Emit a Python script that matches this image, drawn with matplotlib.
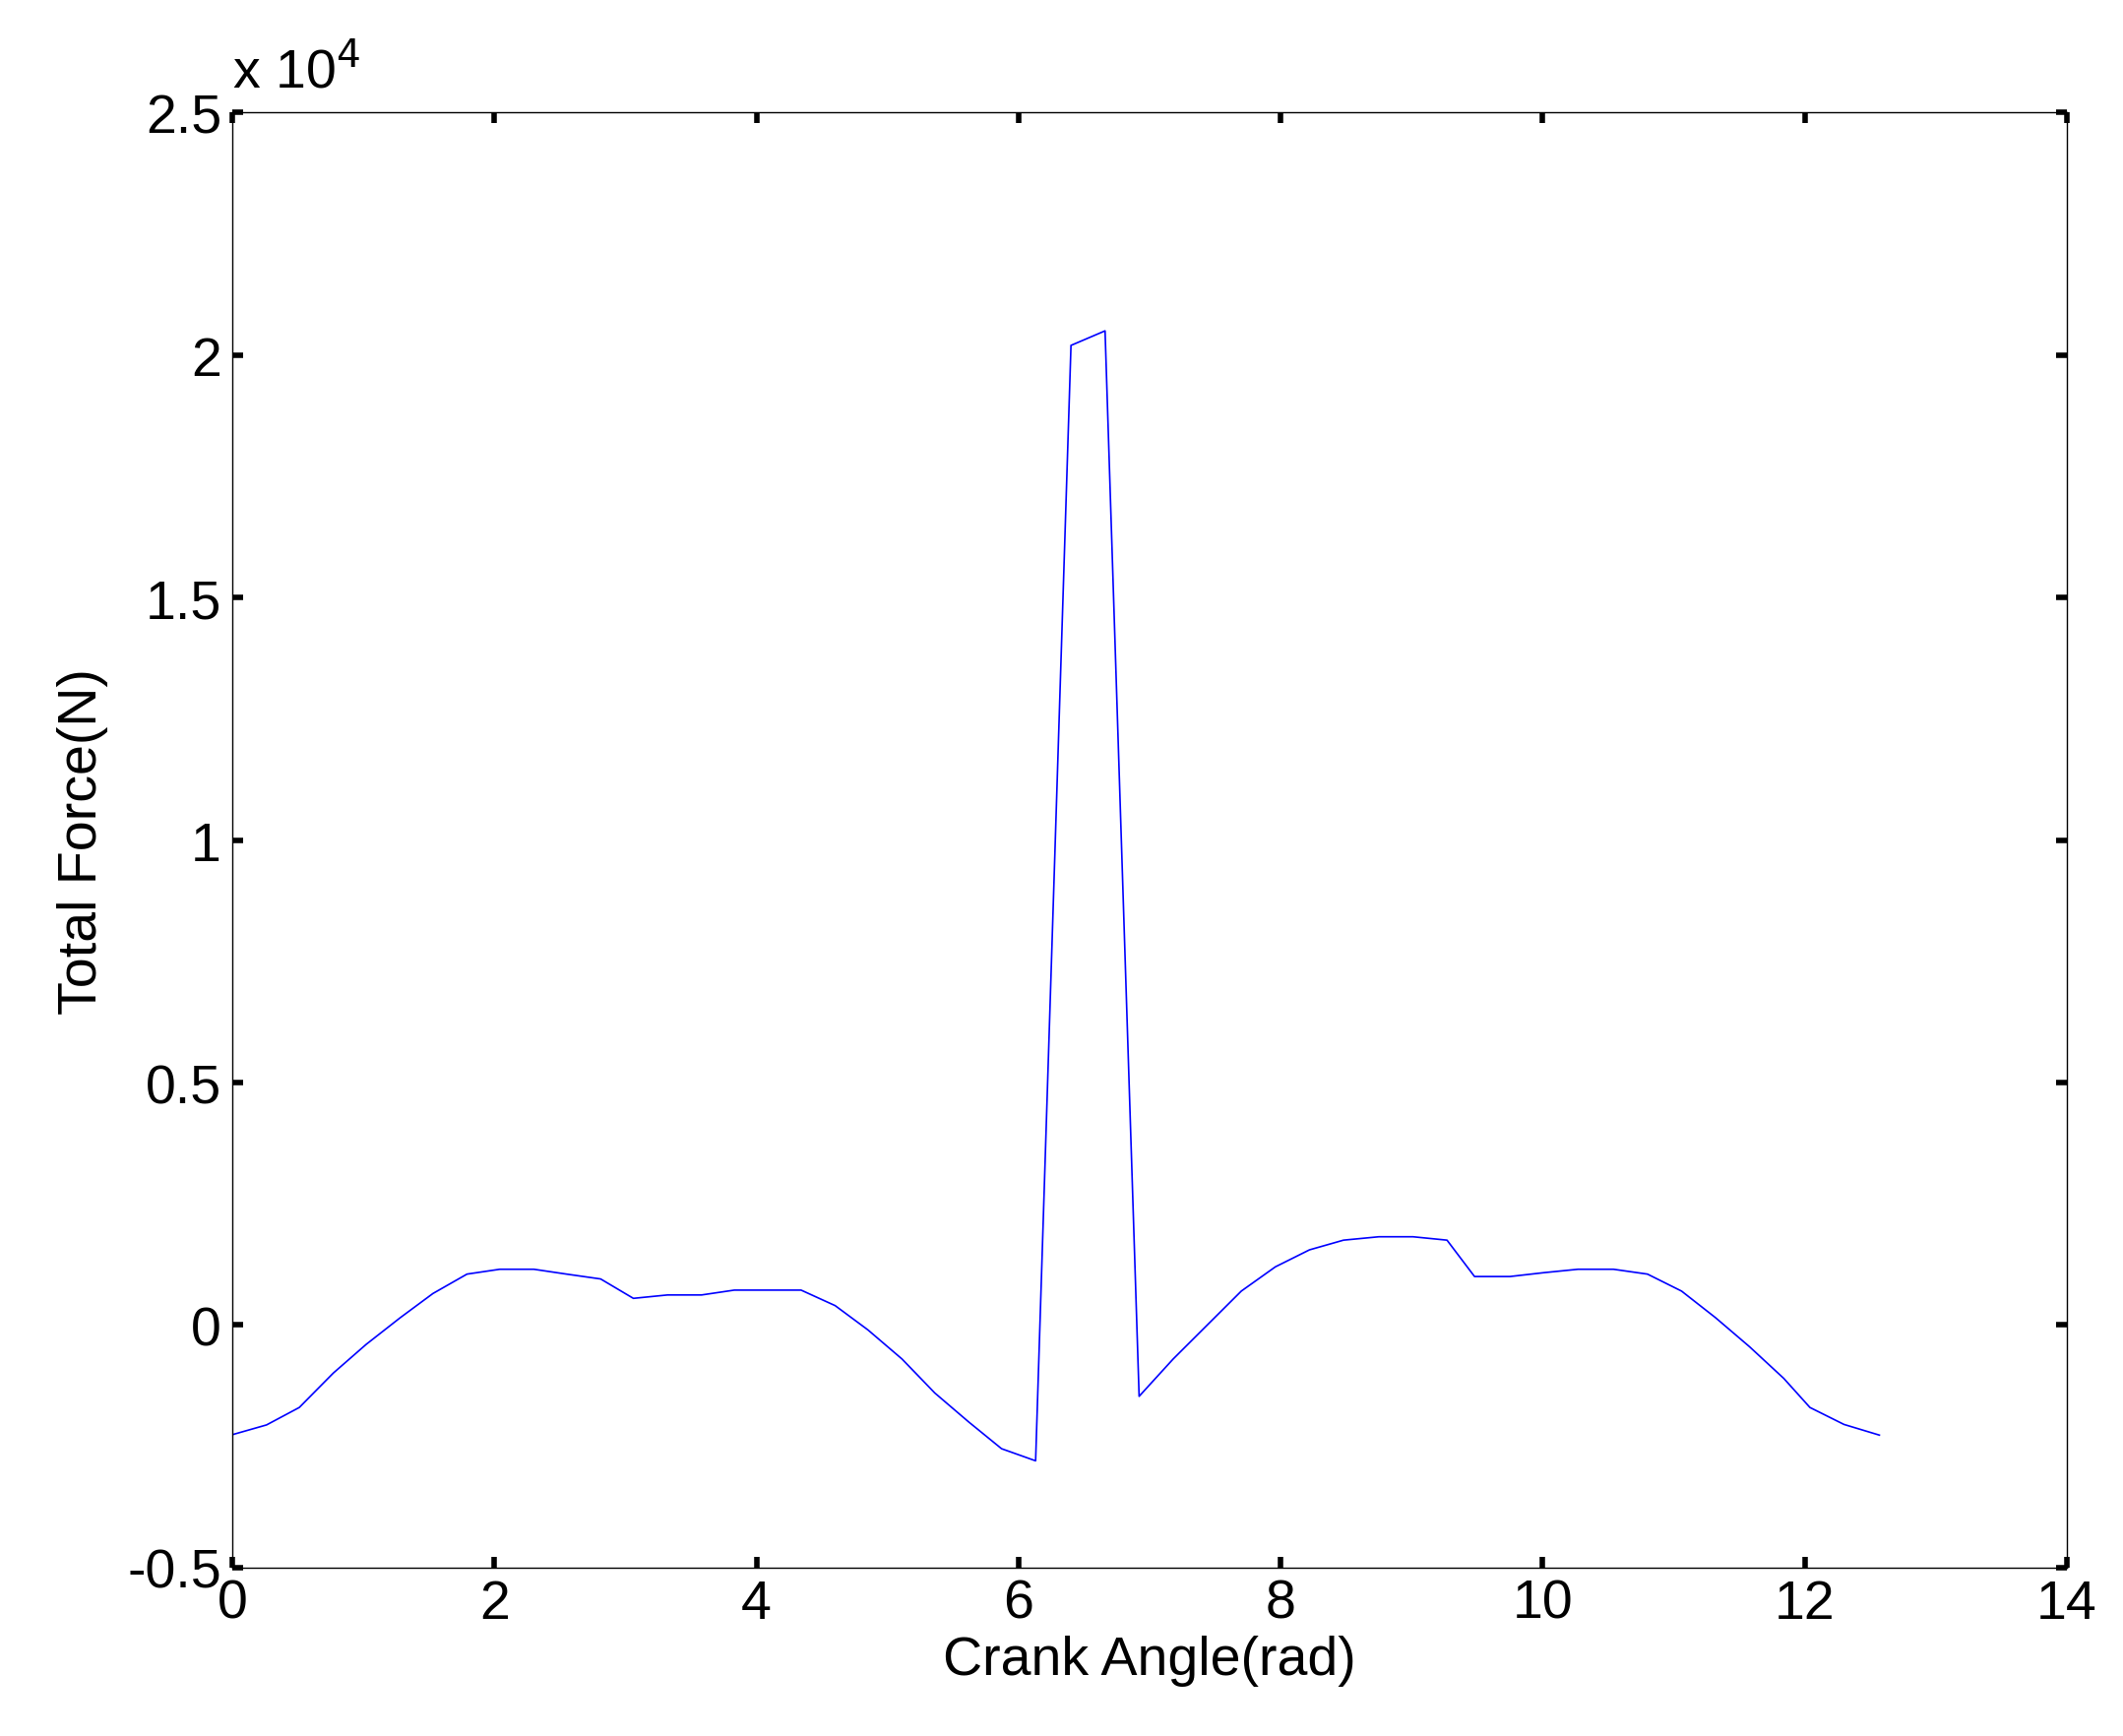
import numpy as np
import matplotlib
matplotlib.use("Agg")
from matplotlib import pyplot as plt

plt.rcParams['font.family'] = ['Liberation Sans', 'DejaVu Sans']

# crank angle (rad)
angle = [0.00, 0.26, 0.51, 0.77, 1.02, 1.28, 1.53, 1.79, 2.04, 2.30, 2.55, 2.81,
         3.06, 3.32, 3.58, 3.83, 4.09, 4.34, 4.60, 4.85, 5.11, 5.36, 5.62, 5.87,
         6.13, 6.40, 6.66, 6.92, 7.18, 7.44, 7.70, 7.96, 8.22, 8.48, 8.75, 9.01,
         9.27, 9.48, 9.75, 10.01, 10.27, 10.54, 10.80, 11.06, 11.32, 11.58, 11.84,
         12.04, 12.30, 12.57]
# total force (N)
force = [-2260, -2060, -1700, -990, -400, 150, 650, 1050, 1150, 1150, 1050, 950,
         550, 620, 620, 720, 720, 720, 400, -100, -700, -1400, -2000, -2550,
         -2800, 20200, 20500, -1470, -700, 0, 700, 1200, 1550, 1750, 1820, 1820,
         1750, 1000, 1000, 1080, 1150, 1150, 1050, 700, 150, -450, -1100,
         -1700, -2050, -2270]

fig = plt.figure(figsize=(21.57, 17.65), dpi=100)
ax = fig.add_axes([0.1095, 0.097, 0.864, 0.8376])
ax.plot(angle, np.array(force) / 1e4, color='blue', lw=1.2)
ax.set_xlim(0, 14)
ax.set_ylim(-0.5, 2.5)
ax.set_xticks(range(0, 15, 2))
ax.set_yticks([-0.5, 0, 0.5, 1, 1.5, 2, 2.5])
ax.set_yticklabels(['-0.5', '0', '0.5', '1', '1.5', '2', '2.5'])
ax.tick_params(direction='in', length=8, width=4, top=True, right=True,
               labelsize=40, pad=8)
for s in ax.spines.values():
    s.set_linewidth(1)
ax.set_xlabel('Crank Angle(rad)', fontsize=40, labelpad=4)
ax.set_ylabel('Total Force(N)', fontsize=40, labelpad=14)
ax.text(0, 1.01, r'x 10$^4$', transform=ax.transAxes, fontsize=40,
        ha='left', va='bottom')
fig.savefig('out.png')
